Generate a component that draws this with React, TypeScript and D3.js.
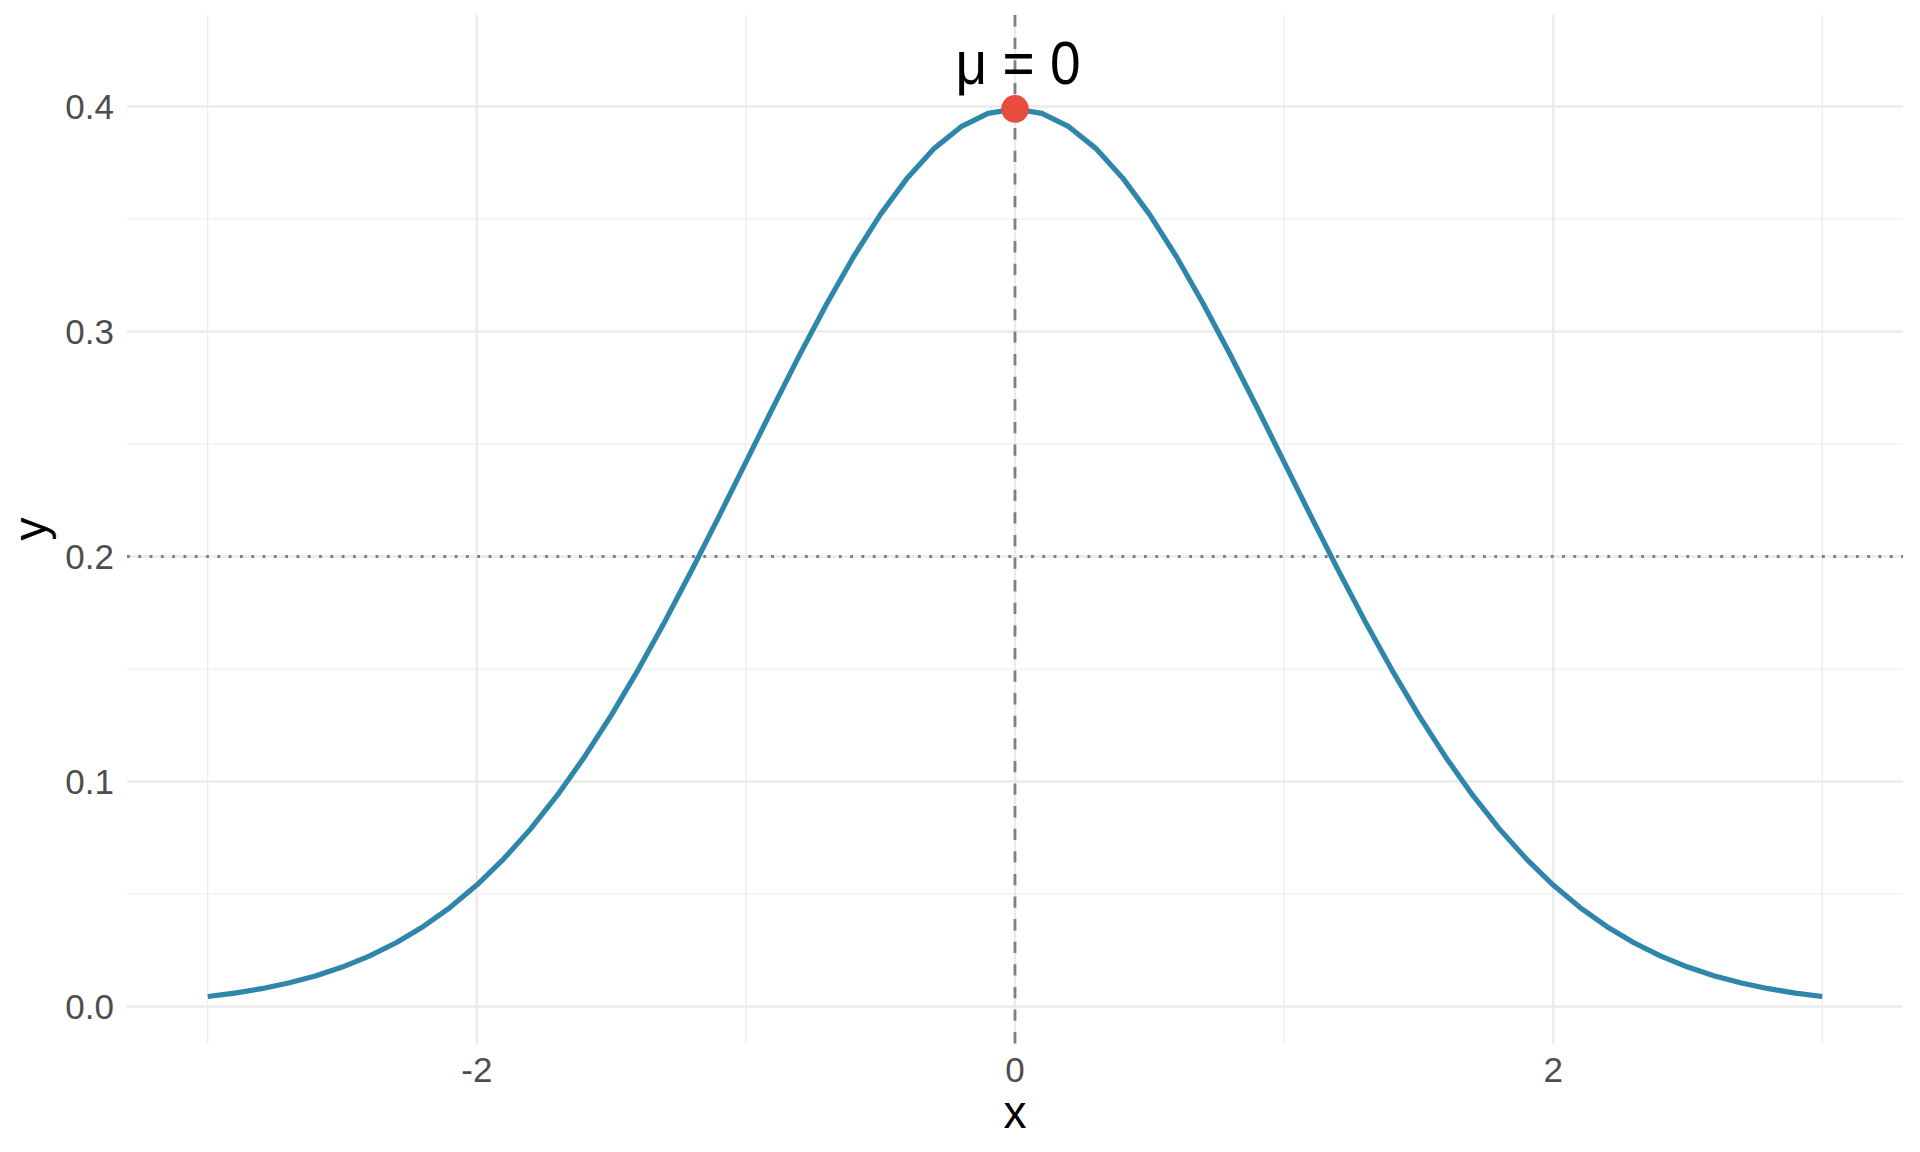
import React from "react";
import * as d3 from "d3";

const xValues = [
  -3.0, -2.9, -2.8, -2.7, -2.6, -2.5, -2.4, -2.3, -2.2, -2.1,
  -2.0, -1.9, -1.8, -1.7, -1.6, -1.5, -1.4, -1.3, -1.2, -1.1,
  -1.0, -0.9, -0.8, -0.7, -0.6, -0.5, -0.4, -0.3, -0.2, -0.1,
  0.0, 0.1, 0.2, 0.3, 0.4, 0.5, 0.6, 0.7, 0.8, 0.9,
  1.0, 1.1, 1.2, 1.3, 1.4, 1.5, 1.6, 1.7, 1.8, 1.9,
  2.0, 2.1, 2.2, 2.3, 2.4, 2.5, 2.6, 2.7, 2.8, 2.9, 3.0,
];
const yValues = [
  0.00443, 0.00595, 0.00792, 0.01042, 0.01358, 0.01753, 0.02239, 0.02833, 0.03547, 0.04398,
  0.05399, 0.06562, 0.07895, 0.09405, 0.11092, 0.12952, 0.14973, 0.17137, 0.19419, 0.21785,
  0.24197, 0.26609, 0.28969, 0.31225, 0.33322, 0.35207, 0.36827, 0.38139, 0.39104, 0.39695,
  0.39894, 0.39695, 0.39104, 0.38139, 0.36827, 0.35207, 0.33322, 0.31225, 0.28969, 0.26609,
  0.24197, 0.21785, 0.19419, 0.17137, 0.14973, 0.12952, 0.11092, 0.09405, 0.07895, 0.06562,
  0.05399, 0.04398, 0.03547, 0.02833, 0.02239, 0.01753, 0.01358, 0.01042, 0.00792, 0.00595, 0.00443,
];
const xMajorTicks = [-2, 0, 2];
const xMinorTicks = [-3, -1, 1, 3];
const yMajorTicks = [0, 0.1, 0.2, 0.3, 0.4];
const yMinorTicks = [0.05, 0.15, 0.25, 0.35];
const meanValue = 0;
const peakValue = 0.39894;
const refLineY = 0.2;
const labelY = 0.42;
const labelText = "μ = 0";

export default function App() {
  const W = 1920;
  const H = 1152;
  const left = 127, right = 1903, top = 14.7, bottom = 1043.4;
  const x = d3.scaleLinear().domain([-3.3, 3.3]).range([left, right]);
  const y = d3.scaleLinear().domain([-0.0164, 0.4408]).range([bottom, top]);
  const pts = xValues.map((v, i) => [v, yValues[i]] as [number, number]);
  const line = d3.line<[number, number]>().x((d) => x(d[0])).y((d) => y(d[1]));
  const tickFont = "'Liberation Sans', Arial, sans-serif";

  return (
    <svg width={W} height={H} style={{ position: "absolute", left: 0, top: 0, background: "#fff" }}>
      <rect x={0} y={0} width={W} height={H} fill="#fff" />
      {/* minor grid */}
      {yMinorTicks.map((t) => (
        <line key={"ym" + t} x1={left} x2={right} y1={y(t)} y2={y(t)} stroke="#EBEBEB" strokeWidth={1.2} />
      ))}
      {xMinorTicks.map((t) => (
        <line key={"xm" + t} x1={x(t)} x2={x(t)} y1={top} y2={bottom} stroke="#EBEBEB" strokeWidth={1.2} />
      ))}
      {/* major grid */}
      {yMajorTicks.map((t) => (
        <line key={"yM" + t} x1={left} x2={right} y1={y(t)} y2={y(t)} stroke="#EBEBEB" strokeWidth={2.3} />
      ))}
      {xMajorTicks.map((t) => (
        <line key={"xM" + t} x1={x(t)} x2={x(t)} y1={top} y2={bottom} stroke="#EBEBEB" strokeWidth={2.3} />
      ))}
      {/* reference lines */}
      <line x1={left} x2={right} y1={y(refLineY)} y2={y(refLineY)} stroke="#7F7F7F" strokeWidth={2.8} strokeDasharray="2.8 8.5" />
      <line x1={x(meanValue)} x2={x(meanValue)} y1={bottom} y2={top} stroke="#7F7F7F" strokeWidth={2.8} strokeDasharray="11.3 11.3" />
      {/* curve */}
      <path d={line(pts) || ""} fill="none" stroke="#2E86AB" strokeWidth={5.2} strokeLinejoin="round" />
      <circle cx={x(meanValue)} cy={y(peakValue)} r={13.8} fill="#E74C3C" />
      <text x={x(meanValue) + 3} y={y(labelY) + 22} textAnchor="middle" fontFamily={tickFont} fontSize={62} fill="#000" textLength={125} lengthAdjust="spacingAndGlyphs">
        {labelText}
      </text>
      {/* y tick labels */}
      {yMajorTicks.map((t) => (
        <text key={"yl" + t} x={114} y={y(t) + 12.6} textAnchor="end" fontFamily={tickFont} fontSize={35} fill="#4D4D4D">
          {d3.format(".1f")(t)}
        </text>
      ))}
      {/* x tick labels */}
      {xMajorTicks.map((t) => (
        <text key={"xl" + t} x={x(t)} y={1081.7} textAnchor="middle" fontFamily={tickFont} fontSize={35} fill="#4D4D4D">
          {d3.format("d")(t).replace("−", "-")}
        </text>
      ))}
      {/* axis titles */}
      <text x={(left + right) / 2} y={1128} textAnchor="middle" fontFamily={tickFont} fontSize={46} fill="#000">x</text>
      <text transform={`translate(46, ${(top + bottom) / 2}) rotate(-90)`} textAnchor="middle" fontFamily={tickFont} fontSize={46} fill="#000">y</text>
    </svg>
  );
}
